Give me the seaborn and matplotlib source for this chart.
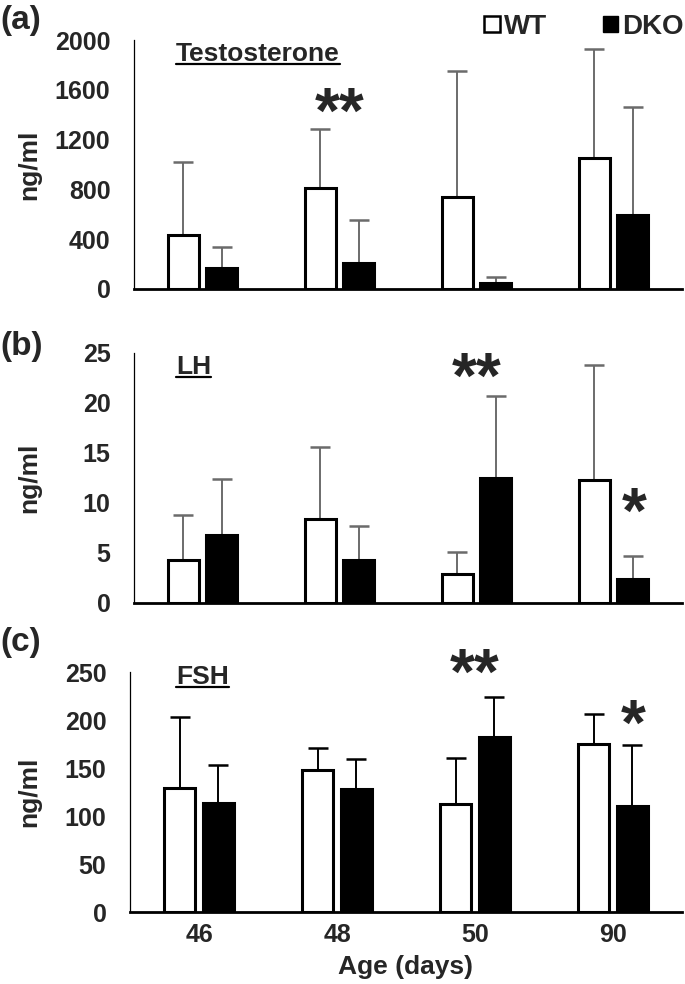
import numpy as np
import pandas as pd
import seaborn as sns
import matplotlib
matplotlib.use("Agg")
import matplotlib.pyplot as plt
from matplotlib.patches import Patch
from matplotlib.lines import Line2D
from matplotlib.transforms import blended_transform_factory

ages = ["46", "48", "50", "90"]
groups = ["WT", "DKO"]

testo_wt = [435, 815, 740, 1050]
testo_dko = [170, 212, 50, 595]
testo_wt_err = [585, 468, 1010, 875]
testo_dko_err = [166, 340, 46, 866]

lh_wt = [4.3, 8.4, 2.9, 12.3]
lh_dko = [6.8, 4.3, 12.5, 2.4]
lh_wt_err = [4.5, 7.2, 2.2, 11.5]
lh_dko_err = [5.6, 3.4, 8.2, 2.3]

fsh_wt = [129, 148, 113, 175]
fsh_dko = [114, 128, 182, 110]
fsh_wt_err = [74, 23, 47, 31]
fsh_dko_err = [39, 31, 42, 64]

panel_letters = ["(a)", "(b)", "(c)"]
panel_titles = ["Testosterone", "LH", "FSH"]
y_limits = [2000, 25, 250]
y_ticks = [[0, 400, 800, 1200, 1600, 2000], [0, 5, 10, 15, 20, 25],
           [0, 50, 100, 150, 200, 250]]

sns.set_theme(style="white")
plt.rcParams["font.family"] = ["Liberation Sans", "DejaVu Sans"]
plt.rcParams["font.weight"] = "bold"

W, H = 685, 984
fig = plt.figure(figsize=(W / 100, H / 100), dpi=100)
# axes boxes in pixels: left, top, right, bottom
boxes = [(134, 40, 682, 289), (134, 353, 682, 603), (130, 672, 682, 912)]

panels = [
    (testo_wt, testo_dko, testo_wt_err, testo_dko_err),
    (lh_wt, lh_dko, lh_wt_err, lh_dko_err),
    (fsh_wt, fsh_dko, fsh_wt_err, fsh_dko_err),
]
err_colors = ["#6b6b6b", "#6b6b6b", "black"]

# star marks: (panel, x in category units, y in data units, text)
stars = [(0, 1.0, 1390, "**"), (1, 2.0, 22.2, "**"), (1, 3.15, 8.7, "*"),
         (2, 2.0, 245, "**"), (2, 3.15, 192, "*")]

axs = []
for i, (wt, dko, wt_err, dko_err) in enumerate(panels):
    l, t, r, b = boxes[i]
    ax = fig.add_axes([l / W, 1 - b / H, (r - l) / W, (b - t) / H])
    axs.append(ax)
    df = pd.DataFrame({
        "age": ages * 2,
        "group": ["WT"] * 4 + ["DKO"] * 4,
        "value": wt + dko,
    })
    sns.barplot(data=df, x="age", y="value", hue="group", order=ages,
                hue_order=groups, palette={"WT": "white", "DKO": "black"},
                edgecolor="black", linewidth=2.2, width=0.56, gap=0.19,
                errorbar=None, legend=False, ax=ax)
    for cont, errs in zip(ax.containers, [wt_err, dko_err]):
        xs = [bar.get_x() + bar.get_width() / 2 for bar in cont]
        hs = [bar.get_height() for bar in cont]
        ax.errorbar(xs, hs, yerr=[np.zeros(len(errs)), errs], fmt="none",
                    ecolor=err_colors[i], elinewidth=1.4, capsize=7,
                    capthick=1.8, zorder=0.5)
    ax.set_ylim(0, y_limits[i])
    ax.set_yticks(y_ticks[i])
    ax.set_xlim(-0.5, 3.5)
    sns.despine(ax=ax)
    ax.spines["left"].set_linewidth(0.9)
    ax.spines["left"].set_color("black")
    ax.spines["bottom"].set_linewidth(2.0)
    ax.spines["bottom"].set_color("black")
    ax.tick_params(axis="y", length=0, pad=17, labelsize=18)
    ax.tick_params(axis="x", length=0, pad=8, labelsize=18)
    ax.set_ylabel("ng/ml", fontsize=19, fontweight="bold")
    if i < 2:
        ax.set_xticklabels([])
        ax.set_xlabel("")
    else:
        ax.set_xlabel("Age (days)", fontsize=19, fontweight="bold", labelpad=6)
    ax.yaxis.set_label_coords(0, 0.5)
    ax.yaxis.label.set_transform(
        blended_transform_factory(fig.transFigure, ax.transAxes))
    ax.yaxis.label.set_position((41 / W, 0.5))

for p, xv, yv, s in stars:
    axs[p].text(xv, yv, s, fontsize=46, fontweight="bold", ha="center",
                va="center", clip_on=False)

title_base = [61, 374, 684]
letter_mid = [20, 347, 643]
for i in range(3):
    t = fig.text(176 / W, 1 - title_base[i] / H, panel_titles[i], fontsize=19,
                 fontweight="bold", ha="left", va="baseline")
    fig.canvas.draw()
    bb = t.get_window_extent()
    yl = 1 - (title_base[i] + 3) / H
    fig.add_artist(Line2D([bb.x0 / W, bb.x1 / W], [yl, yl], color="black",
                          linewidth=1.6, transform=fig.transFigure))
    fig.text(0.0, 1 - letter_mid[i] / H, panel_letters[i], fontsize=24,
             fontweight="bold", ha="left", va="center")

handles = [Patch(facecolor="white", edgecolor="black", linewidth=1.8),
           Patch(facecolor="black", edgecolor="black")]
fig.legend(handles, groups, loc="upper center",
           bbox_to_anchor=(584 / W, 1.0), borderpad=0.0,
           ncol=2, frameon=False, handlelength=0.55, handleheight=0.55,
           handletextpad=0.15, columnspacing=2.0,
           prop={"size": 20, "weight": "bold"})

fig.savefig("out.png", dpi=100)
